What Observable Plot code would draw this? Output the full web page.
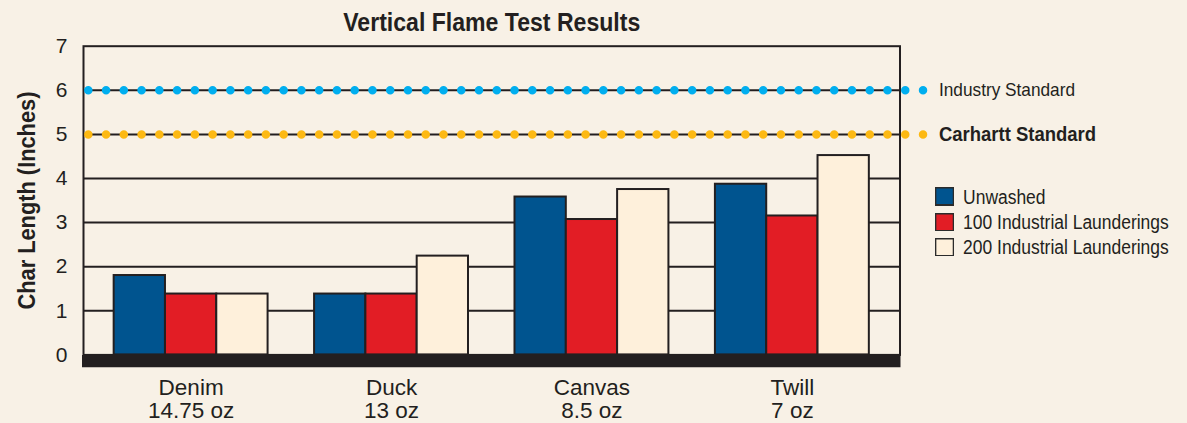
<!DOCTYPE html>
<html>
<head>
<meta charset="utf-8">
<script src="https://cdn.jsdelivr.net/npm/d3@7"></script>
<script src="https://cdn.jsdelivr.net/npm/@observablehq/plot@0.6"></script>
<style>
html, body { margin: 0; padding: 0; background: #F8F1E6; }
#wrap { position: relative; width: 1187px; height: 423px; overflow: hidden; background: #F8F1E6; }
#legend { position: absolute; left: 935px; top: 185.5px; transform: scaleX(0.9); transform-origin: 0 0; }
.lg-swatches { font-family: "Liberation Sans", Arial, sans-serif !important; font-size: 19.4px !important; color: #231F20 !important; margin: 0 !important; min-height: 0 !important; overflow: visible !important; }
.lg-swatch { margin: 0 0 3.3px 0 !important; padding: 0 !important; display: flex !important; align-items: center !important; line-height: 22px !important; height: 22px; overflow: visible !important; }
.lg-swatch * { overflow: visible !important; text-overflow: clip !important; max-width: none !important; }
.lg-swatch svg { margin-right: 10px !important; flex-shrink: 0; overflow: hidden !important; }
.lg-swatch svg rect { stroke: #2B2B2B; stroke-width: 3px; }
</style>
</head>
<body>
<div id="wrap"><div id="chart"></div><div id="legend"></div></div>
<script>
// ---- data ----
const categories = ["Denim", "Duck", "Canvas", "Twill"];
const weights = ["14.75 oz", "13 oz", "8.5 oz", "7 oz"];
const series = ["Unwashed", "100 Industrial Launderings", "200 Industrial Launderings"];
const unwashed = [1.80, 1.38, 3.58, 3.87];
const launder100 = [1.38, 1.38, 3.07, 3.15];
const launder200 = [1.38, 2.24, 3.75, 4.52];
const seriesColors = ["#00548F", "#E21D25", "#FEF0DB"];
const standardLabels = ["Industry Standard", "Carhartt Standard"];
const standardValues = [6, 5];
const standardColors = ["#00AEEF", "#FDB913"];
const yTicks = [0, 1, 2, 3, 4, 5, 6, 7];
const title = "Vertical Flame Test Results";
const yLabel = "Char Length (Inches)";

// ---- layout ----
const W = 1187, H = 423;
const mL = 83, mR = 287.5, mT = 45.7, mB = 68.6;
const ink = "#231F20";
const regular = "'Liberation Sans', Arial, sans-serif";

const xOpts = {type: "band", domain: categories, paddingInner: 0.232, paddingOuter: 0.153, align: 0.5, round: false};
const bw = Plot.scale({x: {...xOpts, range: [mL, W - mR]}}).bandwidth;
const sub = bw / 3;

const valuesBySeries = [unwashed, launder100, launder200];
const table = series.flatMap((s, j) => categories.map((c, i) => ({category: c, series: s, value: valuesBySeries[j][i]})));
const standards = standardLabels.map((label, i) => ({label, value: standardValues[i], color: standardColors[i]}));

const chart = Plot.plot({
  width: W,
  height: H,
  marginLeft: mL,
  marginRight: mR,
  marginTop: mT,
  marginBottom: mB,
  style: {background: "transparent", fontFamily: regular, color: ink},
  x: {...xOpts},
  y: {domain: [0, 7]},
  color: {type: "ordinal", domain: series, range: seriesColors},
  marks: [
    Plot.ruleY(yTicks.filter(d => d > 0 && d < 7), {stroke: ink, strokeWidth: 2}),
    Plot.frame({stroke: ink, strokeWidth: 2}),
    ...series.map((s, j) => Plot.barY(table.filter(d => d.series === s), {
      x: "category", y: "value", fill: "series",
      stroke: ink, strokeWidth: 2,
      insetLeft: j * sub, insetRight: (2 - j) * sub
    })),
    Plot.ruleY([0], {stroke: ink, strokeWidth: 12.4, dy: 6.2, insetLeft: -1, insetRight: -1}),
    ...standards.map(s => Plot.ruleY([s], {
      y: "value", stroke: s.color, strokeWidth: 8.5, strokeLinecap: "round",
      strokeDasharray: "0 17.76", insetLeft: 5.3, insetRight: -24
    })),
    Plot.text([standards[0]], {y: "value", text: "label", frameAnchor: "right", dx: 39, textAnchor: "start",
      lineAnchor: "middle", fontSize: 18.5, fill: ink}),
    Plot.text([standards[1]], {y: "value", text: "label", frameAnchor: "right", dx: 39, textAnchor: "start",
      lineAnchor: "middle", fontSize: 20, fontWeight: "bold", fill: ink}),
    Plot.axisY({ticks: yTicks, tickFormat: d3.format("d"), tickSize: 0, tickPadding: 16, fontSize: 21, label: null, fill: ink}),
    Plot.axisX({tickSize: 0, tickPadding: 23, fontSize: 22.5, lineHeight: 1.04, label: null, fill: ink,
      tickFormat: d => d + "\n" + weights[categories.indexOf(d)]}),
    Plot.text([title], {text: d => d, frameAnchor: "top", lineAnchor: "middle", textAnchor: "middle", dy: -23.3,
      fontSize: 25.5, fontWeight: "bold", fill: ink}),
    Plot.text([yLabel], {text: d => d, frameAnchor: "left", textAnchor: "middle", lineAnchor: "middle",
      rotate: -90, dx: -56, fontSize: 23, fontWeight: "bold", fill: ink})
  ]
});

// condensed look: fit the labels to the widths measured on the reference
const sel = d3.select(chart);
const widths = {[title]: 297, [yLabel]: 218, [standardLabels[0]]: 136, [standardLabels[1]]: 157};
sel.selectAll("text").each(function() {
  const t = this.textContent;
  if (widths[t] != null) d3.select(this).attr("textLength", widths[t]).attr("lengthAdjust", "spacingAndGlyphs");
});

document.getElementById("chart").appendChild(chart);
const legend = chart.legend("color", {legend: "swatches", columns: 1, swatchWidth: 21.2, swatchHeight: 18.5, className: "lg"});
document.getElementById("legend").appendChild(legend);
</script>
</body>
</html>
